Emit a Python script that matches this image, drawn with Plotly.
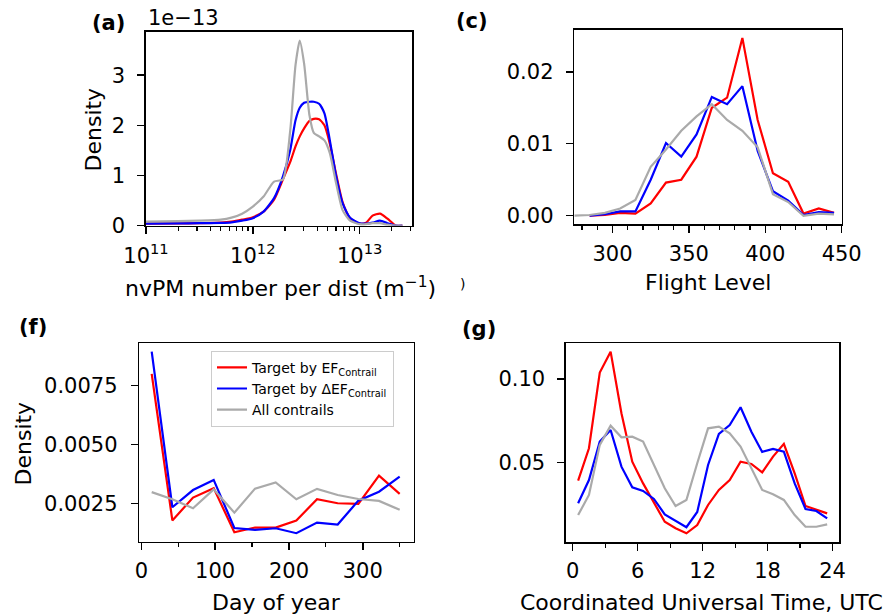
import plotly.graph_objects as go

W, H = 892, 616
RED, BLUE, GRAY = "#ff0000", "#0000ff", "#aaaaaa"

# ---------------- (a) nvPM number per distance (KDE, units of 1e-13) ----------------
a_x = [1.0e11, 2.0e11, 3.16e11, 5.01e11, 6.31e11, 7.94e11, 1.0e12, 1.26e12, 1.58e12,
       1.91e12, 2.24e12, 2.51e12, 2.75e12, 3.02e12, 3.39e12, 3.72e12, 4.17e12, 4.68e12,
       5.25e12, 6.03e12, 6.92e12, 8.13e12, 1.0e13, 1.15e13, 1.32e13, 1.55e13, 1.82e13,
       2.19e13, 2.51e13]
a_red = [0.04, 0.045, 0.05, 0.06, 0.08, 0.12, 0.17, 0.28, 0.52, 0.92, 1.27, 1.58, 1.78,
         1.94, 2.09, 2.13, 2.12, 2.0, 1.64, 1.02, 0.47, 0.15, 0.04, 0.06, 0.2, 0.24,
         0.14, 0.0, 0.0]
a_blue = [0.04, 0.045, 0.05, 0.055, 0.065, 0.1, 0.15, 0.28, 0.55, 0.98, 1.51, 2.1, 2.35,
          2.45, 2.47, 2.47, 2.43, 2.24, 1.71, 0.98, 0.45, 0.16, 0.05, 0.04, 0.06, 0.1,
          0.05, 0.0, 0.0]
a_gray = [0.08, 0.09, 0.1, 0.12, 0.16, 0.24, 0.38, 0.58, 0.88, 0.92, 1.9, 3.2, 3.69, 3.23,
          2.2, 1.85, 1.78, 1.7, 1.45, 0.84, 0.31, 0.1, 0.03, 0.03, 0.05, 0.05, 0.02,
          0.0, 0.0]
a_ticks = [1e11, 1e12, 1e13]
a_ticktext = ["10<sup>11</sup>", "10<sup>12</sup>", "10<sup>13</sup>"]

# ---------------- (c) Flight level ----------------
c_fl = [275, 285, 295, 305, 315, 325, 335, 345, 355, 365, 375, 385, 395, 405, 415, 425, 435, 445]
c_red = [None, 0.0, 0.0001, 0.0004, 0.0003, 0.0017, 0.0046, 0.005, 0.0082, 0.015, 0.0164,
         0.0247, 0.0133, 0.0059, 0.0047, 0.0003, 0.001, 0.0004]
c_blue = [None, 0.0, 0.0002, 0.0006, 0.0006, 0.005, 0.0101, 0.0082, 0.0113, 0.0165, 0.0155,
          0.018, 0.009, 0.0034, 0.0021, 0.0001, 0.0005, 0.0004]
c_gray = [0.0, 0.0001, 0.0004, 0.001, 0.0022, 0.0068, 0.0092, 0.0118, 0.0138, 0.0155,
          0.0133, 0.0118, 0.0095, 0.003, 0.0019, 0.0, 0.0003, 0.0002]

# ---------------- (f) Day of year ----------------
f_day = [14, 42, 70, 98, 126, 154, 182, 210, 238, 266, 294, 322, 350]
f_red = [0.00798, 0.00177, 0.00274, 0.00314, 0.00127, 0.00147, 0.00147, 0.00177, 0.00267,
         0.0025, 0.00247, 0.00367, 0.0029]
f_blue = [0.00893, 0.00233, 0.00306, 0.00349, 0.00145, 0.00137, 0.00144, 0.00123, 0.00168,
          0.0016, 0.00261, 0.00299, 0.00363]
f_gray = [0.00297, 0.00267, 0.00229, 0.00309, 0.0021, 0.00312, 0.00338, 0.00267, 0.00311,
          0.00285, 0.00268, 0.0026, 0.00222]

# ---------------- (g) UTC hour ----------------
g_hour = [0.5, 1.5, 2.5, 3.5, 4.5, 5.5, 6.5, 7.5, 8.5, 9.5, 10.5, 11.5, 12.5, 13.5, 14.5,
          15.5, 16.5, 17.5, 18.5, 19.5, 20.5, 21.5, 22.5, 23.5]
g_red = [0.0392, 0.0586, 0.1038, 0.1163, 0.0795, 0.0506, 0.0376, 0.0257, 0.0147, 0.0108,
         0.0078, 0.0127, 0.0247, 0.0337, 0.0396, 0.0506, 0.0492, 0.0442, 0.0536, 0.0612,
         0.0436, 0.0241, 0.0217, 0.0197]
g_blue = [0.0257, 0.0396, 0.0626, 0.0695, 0.0476, 0.0353, 0.0331, 0.0283, 0.0191, 0.0153,
          0.0114, 0.0205, 0.0486, 0.0671, 0.0725, 0.0831, 0.0685, 0.0564, 0.0582, 0.0566,
          0.0376, 0.0223, 0.0211, 0.0167]
g_gray = [0.0187, 0.0307, 0.0606, 0.0721, 0.0651, 0.0655, 0.0626, 0.0486, 0.0347, 0.0241,
          0.0277, 0.0496, 0.0705, 0.0715, 0.0675, 0.0596, 0.0466, 0.0337, 0.0311, 0.0277,
          0.0187, 0.0117, 0.0117, 0.0131]

legend_names = ["Target by EF<sub>Contrail</sub>", "Target by ΔEF<sub>Contrail</sub>", "All contrails"]
colors = [RED, BLUE, GRAY]

fig = go.Figure()

def add_panel(x, ys, xa, ya, spline=False, legend=False):
    for y, c, n in zip(ys, colors, legend_names):
        fig.add_trace(go.Scatter(
            x=x, y=y, mode="lines", name=n, xaxis=xa, yaxis=ya,
            line=dict(color=c, width=2.2, shape="spline" if spline else "linear",
                      smoothing=0.6 if spline else None),
            showlegend=legend, connectgaps=False, hoverinfo="skip"))

add_panel(a_x, [a_red, a_blue, a_gray], "x", "y", spline=True)
add_panel(c_fl, [c_red, c_blue, c_gray], "x2", "y2")
add_panel(f_day, [f_red, f_blue, f_gray], "x3", "y3", legend=True)
add_panel(g_hour, [g_red, g_blue, g_gray], "x4", "y4")

FONT = dict(family="DejaVu Sans", size=21, color="black")

def px(v):
    return v / W

def py(v):
    return 1 - v / H

def minor(dtick=None):
    d = dict(ticks="outside", ticklen=4, tickwidth=1.2, tickcolor="black", showgrid=False)
    if dtick is not None:
        d.update(dtick=dtick, tick0=0)
    return d

def axis_common(**kw):
    d = dict(showline=True, mirror=True, linecolor="black", linewidth=1.6,
             ticks="outside", ticklen=7, tickwidth=1.5, tickcolor="black",
             showgrid=False, zeroline=False, tickfont=FONT, automargin=False)
    d.update(kw)
    return d

fig.update_layout(
    template="none",
    width=W, height=H, margin=dict(l=0, r=0, t=0, b=0, pad=0),
    paper_bgcolor="white", plot_bgcolor="white", font=FONT,
    xaxis=axis_common(domain=[px(146), px(412)], anchor="y", type="log",
                      range=[11, 13.49], tickvals=a_ticks, ticktext=a_ticktext,
                      minor=dict(ticks="outside", ticklen=4, tickwidth=1.2,
                                 tickcolor="black", dtick="D1", showgrid=False),
                      ticklabelstandoff=3),
    yaxis=axis_common(domain=[py(225.7), py(32)], anchor="x", range=[0, 3.86],
                      tickvals=[0, 1, 2, 3], ticklabelstandoff=8),
    xaxis2=axis_common(domain=[px(574.3), px(841.7)], anchor="y2", range=[275, 450],
                       tickvals=[300, 350, 400, 450], minor=minor(10), ticklabelstandoff=3),
    yaxis2=axis_common(domain=[py(224), py(30)], anchor="x2", range=[-0.00115, 0.0258],
                       tickvals=[0.0, 0.01, 0.02], tickformat=".2f", ticklabelstandoff=8),
    xaxis3=axis_common(domain=[px(139.3), px(413.7)], anchor="y3", range=[-2.8, 369],
                       tickvals=[0, 100, 200, 300], minor=minor(50), ticklabelstandoff=2),
    yaxis3=axis_common(domain=[py(541.7), py(343.3)], anchor="x3", range=[0.00087, 0.00928],
                       tickvals=[0.0025, 0.005, 0.0075], tickformat=".4f", ticklabelstandoff=9),
    xaxis4=axis_common(domain=[px(566), px(839.3)], anchor="y4", range=[-0.62, 24.62],
                       tickvals=[0, 6, 12, 18, 24], minor=minor(3), ticklabelstandoff=2),
    yaxis4=axis_common(domain=[py(542.3), py(343.3)], anchor="x4", range=[0.0024, 0.1213],
                       tickvals=[0.05, 0.10], tickformat=".2f", ticklabelstandoff=8),
    legend=dict(x=px(211), y=py(350.7), xanchor="left", yanchor="top",
                bgcolor="rgba(255,255,255,0.85)", bordercolor="#cccccc", borderwidth=1,
                font=dict(family="DejaVu Sans", size=14, color="black"),
                itemwidth=30, tracegroupgap=0),
)

def ann(text, x, y, xanchor="center", yanchor="middle", size=22, bold=False, angle=0):
    if bold:
        text = "<b>" + text + "</b>"
    fig.add_annotation(text=text, x=px(x), y=py(y), xref="paper", yref="paper",
                       xanchor=xanchor, yanchor=yanchor, showarrow=False, textangle=angle,
                       font=dict(family="DejaVu Sans", size=size, color="black"))

# panel labels
ann("(a)", 90, 23, xanchor="left", bold=True, size=21)
ann("1e−13", 146, 18, xanchor="left", size=21)
ann("(c)", 490, 21, xanchor="right", bold=True, size=21)
ann("(f)", 17, 327, xanchor="left", bold=True, size=21)
ann("(g)", 460, 329, xanchor="left", bold=True, size=21)
ann(")", 467, 284, xanchor="right", size=14)

# axis titles
ann("nvPM number per dist (m<sup>−1</sup>)", 280, 287)
ann("Flight Level", 708, 282)
ann("Day of year", 276, 602)
ann("Coordinated Universal Time, UTC", 701.7, 602)
ann("Density", 92.5, 130, angle=-90)
ann("Density", 22.5, 444, angle=-90)

fig.write_html("out.html", config={"displayModeBar": False, "staticPlot": True},
               post_script="document.body.style.margin='0px';document.body.style.overflow='hidden';")
